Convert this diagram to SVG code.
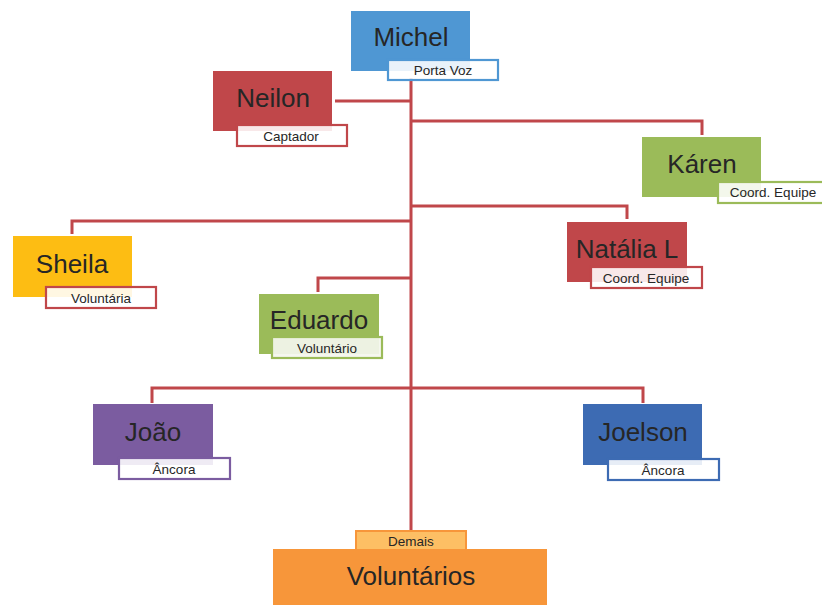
<svg xmlns="http://www.w3.org/2000/svg" width="822" height="605" viewBox="0 0 822 605">
<style>
.bg{fill:#ffffff}
.conn{fill:none;stroke:#C0474A;stroke-width:3}
.name{font-family:"Liberation Sans",Arial,sans-serif;font-size:26px;fill:#262626;text-anchor:middle}
.role{font-family:"Liberation Sans",Arial,sans-serif;font-size:13.5px;fill:#262626;text-anchor:middle}
.lbl{fill:#ffffff;fill-opacity:0.88;stroke-width:2.2}
</style>
<rect class="bg" x="0" y="0" width="822" height="605"/>
<g id="connectors">
<path class="conn" d="M411,78 V531"/>
<path class="conn" d="M335,101 H411"/>
<path class="conn" d="M411,121 H702 V135"/>
<path class="conn" d="M411,206 H627 V219"/>
<path class="conn" d="M411,221 H72 V234"/>
<path class="conn" d="M411,278 H318 V292"/>
<path class="conn" d="M152,403 V388 H643 V403"/>
</g>
<g id="michel">
<rect x="351" y="11" width="119" height="60" fill="#4F97D3"/>
<text class="name" x="411" y="46">Michel</text>
<rect class="lbl" x="388" y="60" width="110" height="20" stroke="#4F97D3"/>
<text class="role" x="443" y="75">Porta Voz</text>
</g>
<g id="neilon">
<rect x="213" y="71" width="119" height="60" fill="#C0474A"/>
<text class="name" x="273" y="107">Neilon</text>
<rect class="lbl" x="237" y="125" width="110" height="21" stroke="#C0474A"/>
<text class="role" x="291" y="141">Captador</text>
</g>
<g id="karen">
<rect x="642" y="137" width="119" height="60" fill="#9BBB59"/>
<text class="name" x="702" y="173">Káren</text>
<rect class="lbl" x="718" y="182" width="112" height="21" stroke="#9BBB59"/>
<text class="role" x="773" y="197">Coord. Equipe</text>
</g>
<g id="natalia">
<rect x="567" y="222" width="120" height="60" fill="#C0474A"/>
<text class="name" x="627" y="258">Natália L</text>
<rect class="lbl" x="591" y="267" width="111" height="21" stroke="#C0474A"/>
<text class="role" x="646" y="283">Coord. Equipe</text>
</g>
<g id="sheila">
<rect x="13" y="236" width="119" height="61" fill="#FDBD13"/>
<text class="name" x="72" y="273">Sheila</text>
<rect class="lbl" x="46" y="287" width="110" height="21" stroke="#C0474A"/>
<text class="role" x="101" y="303">Voluntária</text>
</g>
<g id="eduardo">
<rect x="259" y="294" width="120" height="60" fill="#9BBB59"/>
<text class="name" x="319" y="329">Eduardo</text>
<rect class="lbl" x="272" y="337" width="110" height="21" stroke="#9BBB59" style="fill:#F4F6EE;fill-opacity:0.92"/>
<text class="role" x="327" y="353">Voluntário</text>
</g>
<g id="joao">
<rect x="93" y="404" width="120" height="61" fill="#7B5CA0"/>
<text class="name" x="153" y="441">João</text>
<rect class="lbl" x="119" y="458" width="111" height="21" stroke="#7B5CA0"/>
<text class="role" x="174" y="474">Âncora</text>
</g>
<g id="joelson">
<rect x="583" y="404" width="119" height="61" fill="#3D6BB3"/>
<text class="name" x="643" y="441">Joelson</text>
<rect class="lbl" x="608" y="459" width="111" height="21" stroke="#3D6BB3"/>
<text class="role" x="663" y="475">Âncora</text>
</g>
<g id="voluntarios">
<rect x="273" y="549" width="274" height="58" fill="#F7963A"/>
<text class="name" x="411" y="585">Voluntários</text>
<rect x="356" y="531" width="110" height="19" fill="#FDBF64" stroke="#F7963A" stroke-width="2"/>
<text class="role" x="411" y="546">Demais</text>
</g>
</svg>
